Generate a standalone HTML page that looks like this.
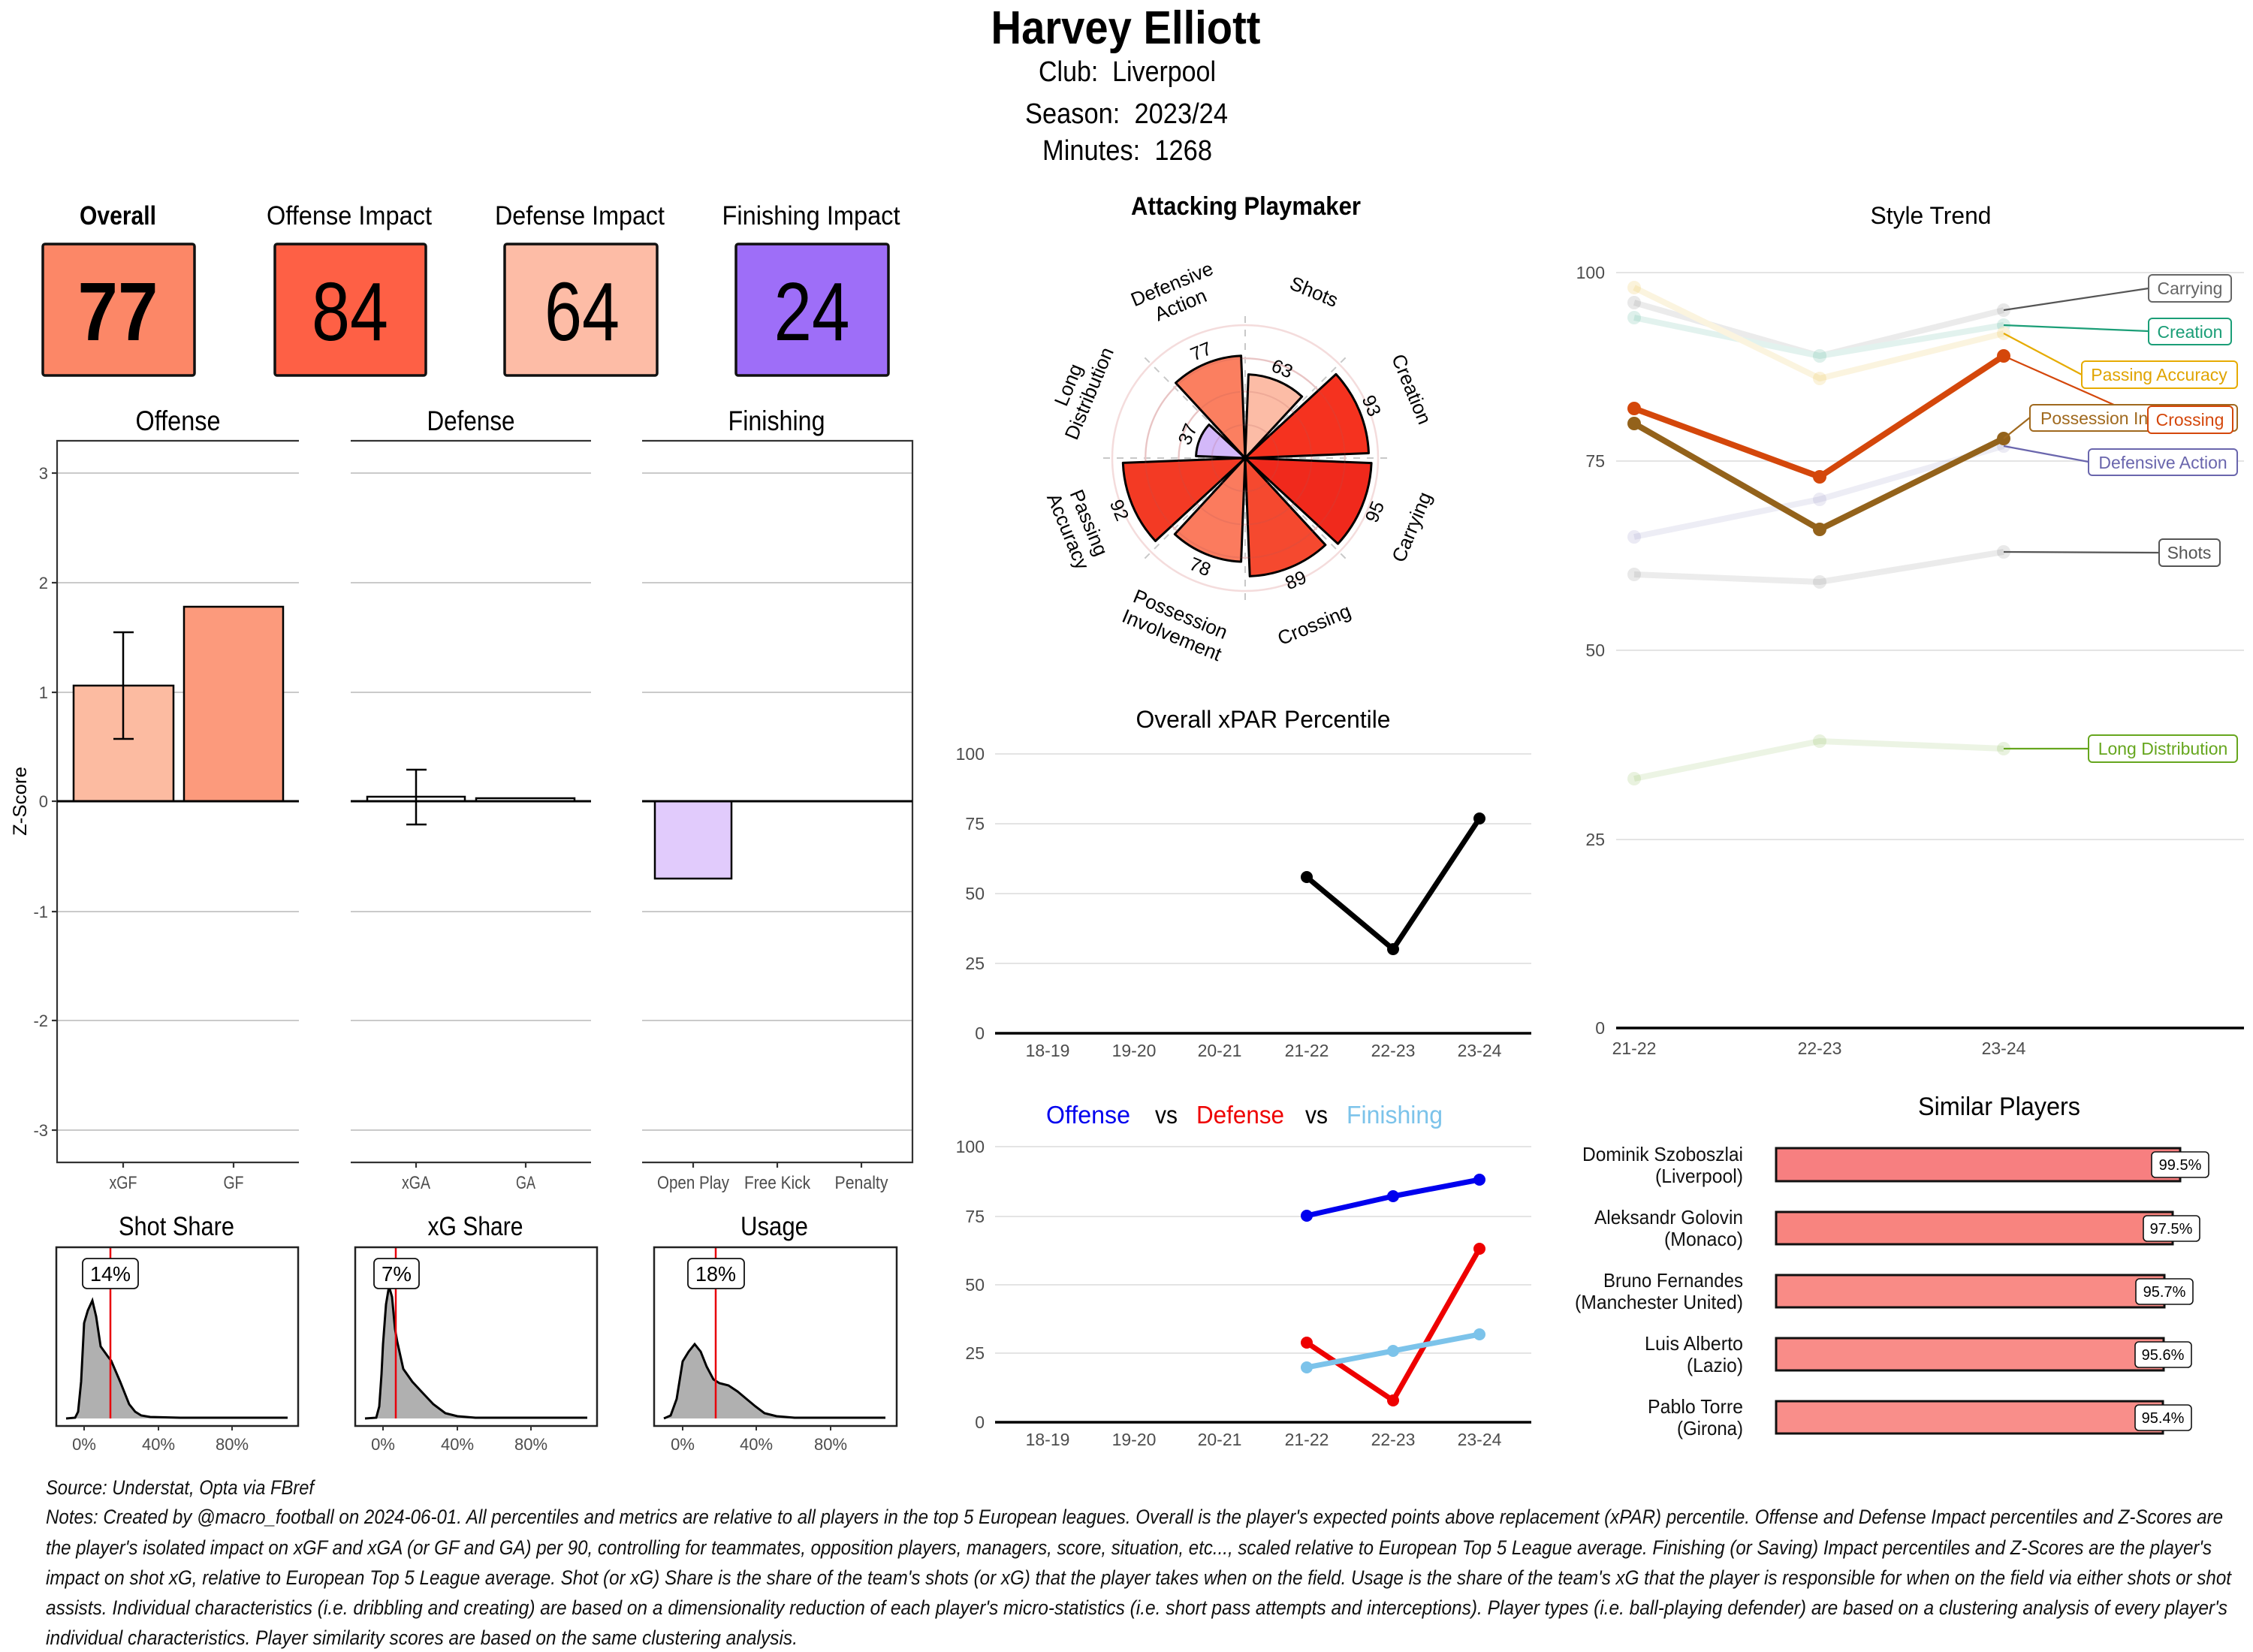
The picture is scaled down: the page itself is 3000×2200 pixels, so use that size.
<!DOCTYPE html>
<html><head><meta charset="utf-8"><style>
body{margin:0;background:#fff}
svg{display:block}
.r{font-family:"Liberation Sans",sans-serif}
.n{font-family:"Liberation Sans Narrow","Liberation Sans",sans-serif}
.g{fill:#4d4d4d}
</style></head><body>
<svg width="3000" height="2200" viewBox="0 0 3000 2200" xmlns="http://www.w3.org/2000/svg">
<rect width="3000" height="2200" fill="#fff"/>

<!-- Header -->
<text class="r" x="1499" y="58" font-size="62" font-weight="bold" text-anchor="middle" textLength="359" lengthAdjust="spacingAndGlyphs">Harvey Elliott</text>
<text class="r" x="1501" y="108" font-size="38" text-anchor="middle" textLength="236" lengthAdjust="spacingAndGlyphs" xml:space="preserve">Club:  Liverpool</text>
<text class="r" x="1500" y="164" font-size="38" text-anchor="middle" textLength="270" lengthAdjust="spacingAndGlyphs" xml:space="preserve">Season:  2023/24</text>
<text class="r" x="1501" y="213" font-size="38" text-anchor="middle" textLength="226" lengthAdjust="spacingAndGlyphs" xml:space="preserve">Minutes:  1268</text>

<!-- Top boxes -->
<text class="n" x="157" y="299" font-size="35" font-weight="bold" text-anchor="middle" textLength="102" lengthAdjust="spacingAndGlyphs">Overall</text>
<text class="n" x="465" y="299" font-size="35" text-anchor="middle" textLength="220" lengthAdjust="spacingAndGlyphs">Offense Impact</text>
<text class="n" x="772" y="299" font-size="35" text-anchor="middle" textLength="226" lengthAdjust="spacingAndGlyphs">Defense Impact</text>
<text class="n" x="1080" y="299" font-size="35" text-anchor="middle" textLength="237" lengthAdjust="spacingAndGlyphs">Finishing Impact</text>
<rect x="57" y="325" width="202" height="175" rx="3" fill="#fc8767" stroke="#111" stroke-width="3.5"/>
<rect x="366" y="325" width="201" height="175" rx="3" fill="#fe6045" stroke="#111" stroke-width="3.5"/>
<rect x="672" y="325" width="203" height="175" rx="3" fill="#fdbca6" stroke="#111" stroke-width="3.5"/>
<rect x="980" y="325" width="203" height="175" rx="3" fill="#9e6ef8" stroke="#111" stroke-width="3.5"/>
<text class="n" x="157" y="453" font-size="110" font-weight="bold" text-anchor="middle" textLength="107" lengthAdjust="spacingAndGlyphs">77</text>
<text class="n" x="466" y="453" font-size="110" text-anchor="middle" textLength="102" lengthAdjust="spacingAndGlyphs">84</text>
<text class="n" x="775" y="453" font-size="110" text-anchor="middle" textLength="100" lengthAdjust="spacingAndGlyphs">64</text>
<text class="n" x="1081" y="453" font-size="110" text-anchor="middle" textLength="101" lengthAdjust="spacingAndGlyphs">24</text>

<!-- Z-score panels -->
<text class="n" x="237" y="573" font-size="37" text-anchor="middle" textLength="113" lengthAdjust="spacingAndGlyphs">Offense</text>
<text class="n" x="627" y="573" font-size="37" text-anchor="middle" textLength="117" lengthAdjust="spacingAndGlyphs">Defense</text>
<text class="n" x="1034" y="573" font-size="37" text-anchor="middle" textLength="129" lengthAdjust="spacingAndGlyphs">Finishing</text>
<g stroke="#b8b8b8" stroke-width="1.6">
<line x1="76" y1="630" x2="398" y2="630"/><line x1="467" y1="630" x2="787" y2="630"/><line x1="855" y1="630" x2="1215" y2="630"/>
<line x1="76" y1="776" x2="398" y2="776"/><line x1="467" y1="776" x2="787" y2="776"/><line x1="855" y1="776" x2="1215" y2="776"/>
<line x1="76" y1="922" x2="398" y2="922"/><line x1="467" y1="922" x2="787" y2="922"/><line x1="855" y1="922" x2="1215" y2="922"/>
<line x1="76" y1="1214" x2="398" y2="1214"/><line x1="467" y1="1214" x2="787" y2="1214"/><line x1="855" y1="1214" x2="1215" y2="1214"/>
<line x1="76" y1="1359" x2="398" y2="1359"/><line x1="467" y1="1359" x2="787" y2="1359"/><line x1="855" y1="1359" x2="1215" y2="1359"/>
<line x1="76" y1="1505" x2="398" y2="1505"/><line x1="467" y1="1505" x2="787" y2="1505"/><line x1="855" y1="1505" x2="1215" y2="1505"/>
</g>
<g stroke="#333" stroke-width="2.2" fill="none">
<polyline points="398,587 76,587 76,1548 398,1548"/>
<line x1="467" y1="587" x2="787" y2="587"/><line x1="467" y1="1548" x2="787" y2="1548"/>
<polyline points="855,587 1215,587 1215,1548 855,1548"/>
<line x1="69" y1="630" x2="76" y2="630"/><line x1="69" y1="776" x2="76" y2="776"/><line x1="69" y1="922" x2="76" y2="922"/><line x1="69" y1="1067" x2="76" y2="1067"/><line x1="69" y1="1214" x2="76" y2="1214"/><line x1="69" y1="1359" x2="76" y2="1359"/><line x1="69" y1="1505" x2="76" y2="1505"/>
<line x1="164" y1="1548" x2="164" y2="1555"/><line x1="311" y1="1548" x2="311" y2="1555"/><line x1="554" y1="1548" x2="554" y2="1555"/><line x1="700" y1="1548" x2="700" y2="1555"/><line x1="923" y1="1548" x2="923" y2="1555"/><line x1="1035" y1="1548" x2="1035" y2="1555"/><line x1="1147" y1="1548" x2="1147" y2="1555"/>
</g>
<g class="n g" font-size="22" text-anchor="end">
<text x="64" y="638">3</text><text x="64" y="784">2</text><text x="64" y="930">1</text><text x="64" y="1075">0</text><text x="64" y="1222">-1</text><text x="64" y="1367">-2</text><text x="64" y="1513">-3</text>
</g>
<text class="r" transform="translate(35,1067) rotate(-90)" font-size="25" text-anchor="middle" textLength="92" lengthAdjust="spacingAndGlyphs">Z-Score</text>
<!-- bars -->
<rect x="98" y="913" width="133" height="154" fill="#fcbba1" stroke="#000" stroke-width="2.5"/>
<rect x="245" y="808" width="132" height="259" fill="#fc9a7c" stroke="#000" stroke-width="2.5"/>
<g stroke="#000" stroke-width="2.5"><line x1="164" y1="842" x2="164" y2="984"/><line x1="151" y1="842" x2="178" y2="842"/><line x1="151" y1="984" x2="178" y2="984"/></g>
<rect x="489" y="1061" width="130" height="6" fill="#fff" stroke="#000" stroke-width="2.5"/>
<rect x="634" y="1063" width="131" height="4" fill="#fff" stroke="#000" stroke-width="2.5"/>
<g stroke="#000" stroke-width="2.5"><line x1="554" y1="1025" x2="554" y2="1098"/><line x1="541" y1="1025" x2="568" y2="1025"/><line x1="541" y1="1098" x2="568" y2="1098"/></g>
<rect x="872" y="1067" width="102" height="103" fill="#e1cbfc" stroke="#000" stroke-width="2.5"/>
<g stroke="#000" stroke-width="3"><line x1="76" y1="1067" x2="398" y2="1067"/><line x1="467" y1="1067" x2="787" y2="1067"/><line x1="855" y1="1067" x2="1215" y2="1067"/></g>
<g class="n g" font-size="24" text-anchor="middle">
<text x="164" y="1583" textLength="37" lengthAdjust="spacingAndGlyphs">xGF</text>
<text x="311" y="1583" textLength="27" lengthAdjust="spacingAndGlyphs">GF</text>
<text x="554" y="1583" textLength="38" lengthAdjust="spacingAndGlyphs">xGA</text>
<text x="700" y="1583" textLength="26" lengthAdjust="spacingAndGlyphs">GA</text>
<text x="923" y="1583" textLength="96" lengthAdjust="spacingAndGlyphs">Open Play</text>
<text x="1035" y="1583" textLength="88" lengthAdjust="spacingAndGlyphs">Free Kick</text>
<text x="1147" y="1583" textLength="71" lengthAdjust="spacingAndGlyphs">Penalty</text>
</g>

<!-- Density panels -->
<text class="n" x="235" y="1645" font-size="35" text-anchor="middle" textLength="154" lengthAdjust="spacingAndGlyphs">Shot Share</text>
<text class="n" x="633" y="1645" font-size="35" text-anchor="middle" textLength="127" lengthAdjust="spacingAndGlyphs">xG Share</text>
<text class="n" x="1031" y="1645" font-size="35" text-anchor="middle" textLength="90" lengthAdjust="spacingAndGlyphs">Usage</text>
<path d="M88,1889 L100,1888 L104,1880 L108,1840 L112,1762 L117,1745 L123,1732 L128,1753 L134,1793 L144,1807 L148,1812 L160,1840 L172,1870 L180,1880 L188,1885 L200,1887 L240,1888 L383,1888 L383,1889 Z" fill="#b0b0b0" stroke="none"/>
<path d="M88,1889 L100,1888 L104,1880 L108,1840 L112,1762 L117,1745 L123,1732 L128,1753 L134,1793 L144,1807 L148,1812 L160,1840 L172,1870 L180,1880 L188,1885 L200,1887 L240,1888 L383,1888" fill="none" stroke="#000" stroke-width="3"/>
<path d="M486,1889 L501,1888 L505,1873 L508,1830 L510,1790 L514,1737 L518,1713 L522,1727 L526,1770 L529,1787 L537,1823 L549,1840 L561,1853 L577,1870 L593,1882 L609,1886 L633,1888 L782,1888 L782,1889 Z" fill="#b0b0b0"/>
<path d="M486,1889 L501,1888 L505,1873 L508,1830 L510,1790 L514,1737 L518,1713 L522,1727 L526,1770 L529,1787 L537,1823 L549,1840 L561,1853 L577,1870 L593,1882 L609,1886 L633,1888 L782,1888" fill="none" stroke="#000" stroke-width="3"/>
<path d="M884,1889 L893,1885 L901,1863 L909,1813 L917,1800 L925,1790 L933,1800 L941,1820 L950,1837 L958,1842 L970,1845 L982,1853 L994,1863 L1006,1873 L1018,1882 L1034,1886 L1058,1888 L1179,1888 L1179,1889 Z" fill="#b0b0b0"/>
<path d="M884,1889 L893,1885 L901,1863 L909,1813 L917,1800 L925,1790 L933,1800 L941,1820 L950,1837 L958,1842 L970,1845 L982,1853 L994,1863 L1006,1873 L1018,1882 L1034,1886 L1058,1888 L1179,1888" fill="none" stroke="#000" stroke-width="3"/>
<g stroke="#e8000b" stroke-width="2.5">
<line x1="147" y1="1662" x2="147" y2="1889"/><line x1="527" y1="1662" x2="527" y2="1889"/><line x1="953" y1="1662" x2="953" y2="1889"/>
</g>
<g fill="none" stroke="#222" stroke-width="2.5">
<rect x="75" y="1661" width="322" height="238"/><rect x="473" y="1661" width="322" height="238"/><rect x="871" y="1661" width="323" height="238"/>
</g>
<g stroke="#333" stroke-width="2">
<line x1="112" y1="1899" x2="112" y2="1905"/><line x1="211" y1="1899" x2="211" y2="1905"/><line x1="309" y1="1899" x2="309" y2="1905"/>
<line x1="510" y1="1899" x2="510" y2="1905"/><line x1="609" y1="1899" x2="609" y2="1905"/><line x1="707" y1="1899" x2="707" y2="1905"/>
<line x1="909" y1="1899" x2="909" y2="1905"/><line x1="1007" y1="1899" x2="1007" y2="1905"/><line x1="1106" y1="1899" x2="1106" y2="1905"/>
</g>
<g class="n g" font-size="22" text-anchor="middle">
<text x="112" y="1931">0%</text><text x="211" y="1931">40%</text><text x="309" y="1931">80%</text>
<text x="510" y="1931">0%</text><text x="609" y="1931">40%</text><text x="707" y="1931">80%</text>
<text x="909" y="1931">0%</text><text x="1007" y="1931">40%</text><text x="1106" y="1931">80%</text>
</g>
<g fill="#fff" stroke="#111" stroke-width="1.8">
<rect x="110" y="1676" width="74" height="40" rx="6"/><rect x="498" y="1676" width="60" height="40" rx="6"/><rect x="916" y="1676" width="75" height="40" rx="6"/>
</g>
<g class="n" font-size="28" text-anchor="middle">
<text x="147" y="1706" textLength="54" lengthAdjust="spacingAndGlyphs">14%</text>
<text x="528" y="1706" textLength="40" lengthAdjust="spacingAndGlyphs">7%</text>
<text x="953" y="1706" textLength="54" lengthAdjust="spacingAndGlyphs">18%</text>
</g>

<!-- Radar -->
<text class="r" x="1659" y="286" font-size="34" font-weight="bold" text-anchor="middle" textLength="306" lengthAdjust="spacingAndGlyphs">Attacking Playmaker</text>
<g stroke="#c8c8c8" stroke-width="2" stroke-dasharray="9,9">
<line x1="1658" y1="610" x2="1658" y2="413"/>
<line x1="1658" y1="610" x2="1797" y2="471"/>
<line x1="1658" y1="610" x2="1855" y2="610"/>
<line x1="1658" y1="610" x2="1797" y2="749"/>
<line x1="1658" y1="610" x2="1658" y2="807"/>
<line x1="1658" y1="610" x2="1519" y2="749"/>
<line x1="1658" y1="610" x2="1461" y2="610"/>
<line x1="1658" y1="610" x2="1519" y2="471"/>
</g>
<circle cx="1658" cy="610" r="177" fill="none" stroke="#f4dcdc" stroke-width="2.5"/>
<circle cx="1658" cy="610" r="132.75" fill="none" stroke="#f4dcdc" stroke-width="2.5"/>
<circle cx="1658" cy="610" r="88.5" fill="none" stroke="#f4dcdc" stroke-width="2.5"/>
<g stroke="#000" stroke-width="3" stroke-linejoin="round">
<path d="M1658,610 L1662.4,498.6 A111.5,111.5 0 0 1 1733.7,528.1 Z" fill="#fcbca6"/>
<path d="M1658,610 L1778.9,498.3 A164.6,164.6 0 0 1 1822.5,603.5 Z" fill="#f5321f"/>
<path d="M1658,610 L1826.1,616.6 A168.2,168.2 0 0 1 1781.5,724.2 Z" fill="#f0291c"/>
<path d="M1658,610 L1764.9,725.7 A157.5,157.5 0 0 1 1664.2,767.4 Z" fill="#f5492f"/>
<path d="M1658,610 L1652.6,748.0 A138.1,138.1 0 0 1 1564.3,711.4 Z" fill="#fb7b5e"/>
<path d="M1658,610 L1538.5,720.5 A162.8,162.8 0 0 1 1495.3,616.4 Z" fill="#f33a24"/>
<path d="M1658,610 L1592.6,607.4 A65.5,65.5 0 0 1 1609.9,565.5 Z" fill="#d3b8f9"/>
<path d="M1658,610 L1565.5,509.9 A136.3,136.3 0 0 1 1652.6,473.8 Z" fill="#fb7f60"/>
</g>
<g fill="none" stroke="rgba(180,90,90,0.18)" stroke-width="2">
<circle cx="1658" cy="610" r="132.75"/><circle cx="1658" cy="610" r="88.5"/><circle cx="1658" cy="610" r="44.25"/>
</g>
<g class="r" font-size="26" text-anchor="middle">
<g transform="translate(1749.8,388.3) rotate(22.5)"><text y="9">Shots</text></g>
<g transform="translate(1879.7,518.2) rotate(67.5)"><text y="9">Creation</text></g>
<g transform="translate(1879.7,701.8) rotate(-67.5)"><text y="9">Carrying</text></g>
<g transform="translate(1749.8,831.7) rotate(-22.5)"><text y="9">Crossing</text></g>
<g transform="translate(1566.2,831.7) rotate(22.5)"><text y="-6">Possession</text><text y="24">Involvement</text></g>
<g transform="translate(1436.3,701.8) rotate(67.5)"><text y="-6">Passing</text><text y="24">Accuracy</text></g>
<g transform="translate(1436.3,518.2) rotate(-67.5)"><text y="-6">Long</text><text y="24">Distribution</text></g>
<g transform="translate(1566.2,392) rotate(-22.5)"><text y="-6">Defensive</text><text y="24">Action</text></g>
</g>
<g class="r" font-size="25" text-anchor="middle">
<g transform="translate(1707.6,490.4) rotate(22.5)"><text y="9">63</text></g>
<g transform="translate(1826.7,540.1) rotate(67.5)"><text y="9">93</text></g>
<g transform="translate(1830,681.3) rotate(-67.5)"><text y="9">95</text></g>
<g transform="translate(1725.2,772.1) rotate(-22.5)"><text y="9">89</text></g>
<g transform="translate(1598.3,754.2) rotate(22.5)"><text y="9">78</text></g>
<g transform="translate(1491,679.2) rotate(67.5)"><text y="9">92</text></g>
<g transform="translate(1580.9,578) rotate(-67.5)"><text y="9">37</text></g>
<g transform="translate(1599,467.4) rotate(-22.5)"><text y="9">77</text></g>
</g>

<!-- Overall xPAR Percentile -->
<text class="r" x="1682" y="969" font-size="32" text-anchor="middle" textLength="339" lengthAdjust="spacingAndGlyphs">Overall xPAR Percentile</text>
<g stroke="#dcdcdc" stroke-width="1.6">
<line x1="1325" y1="1004" x2="2039" y2="1004"/><line x1="1325" y1="1097" x2="2039" y2="1097"/><line x1="1325" y1="1190" x2="2039" y2="1190"/><line x1="1325" y1="1283" x2="2039" y2="1283"/>
</g>
<line x1="1325" y1="1376" x2="2039" y2="1376" stroke="#000" stroke-width="3.5"/>
<g class="r g" font-size="23" text-anchor="end">
<text x="1311" y="1012">100</text><text x="1311" y="1105">75</text><text x="1311" y="1198">50</text><text x="1311" y="1291">25</text><text x="1311" y="1384">0</text>
</g>
<g class="r g" font-size="23" text-anchor="middle">
<text x="1395" y="1407">18-19</text><text x="1510" y="1407">19-20</text><text x="1624" y="1407">20-21</text><text x="1740" y="1407">21-22</text><text x="1855" y="1407">22-23</text><text x="1970" y="1407">23-24</text>
</g>
<polyline points="1740,1168 1855,1264 1970,1090" fill="none" stroke="#000" stroke-width="7" stroke-linejoin="round"/>
<g fill="#000"><circle cx="1740" cy="1168" r="8"/><circle cx="1855" cy="1264" r="8"/><circle cx="1970" cy="1090" r="8"/></g>

<!-- Offense vs Defense vs Finishing -->
<g class="r" font-size="33">
<text x="1393" y="1496" fill="#0000ee" textLength="112" lengthAdjust="spacingAndGlyphs">Offense</text>
<text x="1538" y="1496" textLength="30" lengthAdjust="spacingAndGlyphs">vs</text>
<text x="1593" y="1496" fill="#ee0000" textLength="117" lengthAdjust="spacingAndGlyphs">Defense</text>
<text x="1738" y="1496" textLength="30" lengthAdjust="spacingAndGlyphs">vs</text>
<text x="1793" y="1496" fill="#7cc3ea" textLength="128" lengthAdjust="spacingAndGlyphs">Finishing</text>
</g>
<g stroke="#dcdcdc" stroke-width="1.6">
<line x1="1325" y1="1527" x2="2039" y2="1527"/><line x1="1325" y1="1620" x2="2039" y2="1620"/><line x1="1325" y1="1711" x2="2039" y2="1711"/><line x1="1325" y1="1802" x2="2039" y2="1802"/>
</g>
<line x1="1325" y1="1894" x2="2039" y2="1894" stroke="#000" stroke-width="3.5"/>
<g class="r g" font-size="23" text-anchor="end">
<text x="1311" y="1535">100</text><text x="1311" y="1628">75</text><text x="1311" y="1719">50</text><text x="1311" y="1810">25</text><text x="1311" y="1902">0</text>
</g>
<g class="r g" font-size="23" text-anchor="middle">
<text x="1395" y="1925">18-19</text><text x="1510" y="1925">19-20</text><text x="1624" y="1925">20-21</text><text x="1740" y="1925">21-22</text><text x="1855" y="1925">22-23</text><text x="1970" y="1925">23-24</text>
</g>
<polyline points="1740,1619 1855,1593 1970,1571" fill="none" stroke="#0000ee" stroke-width="7" stroke-linejoin="round"/>
<g fill="#0000ee"><circle cx="1740" cy="1619" r="8"/><circle cx="1855" cy="1593" r="8"/><circle cx="1970" cy="1571" r="8"/></g>
<polyline points="1740,1788 1855,1865 1970,1663" fill="none" stroke="#ee0000" stroke-width="7" stroke-linejoin="round"/>
<g fill="#ee0000"><circle cx="1740" cy="1788" r="8"/><circle cx="1855" cy="1865" r="8"/><circle cx="1970" cy="1663" r="8"/></g>
<polyline points="1740,1821 1855,1799 1970,1777" fill="none" stroke="#7cc3ea" stroke-width="7" stroke-linejoin="round"/>
<g fill="#7cc3ea"><circle cx="1740" cy="1821" r="8"/><circle cx="1855" cy="1799" r="8"/><circle cx="1970" cy="1777" r="8"/></g>

<!-- Style Trend -->
<text class="r" x="2571" y="298" font-size="32" text-anchor="middle" textLength="161" lengthAdjust="spacingAndGlyphs">Style Trend</text>
<g stroke="#dcdcdc" stroke-width="1.6">
<line x1="2152" y1="363" x2="2988" y2="363"/><line x1="2152" y1="614" x2="2988" y2="614"/><line x1="2152" y1="866" x2="2988" y2="866"/><line x1="2152" y1="1118" x2="2988" y2="1118"/>
</g>
<line x1="2152" y1="1369" x2="2988" y2="1369" stroke="#000" stroke-width="3.5"/>
<g class="r g" font-size="23" text-anchor="end">
<text x="2137" y="371">100</text><text x="2137" y="622">75</text><text x="2137" y="874">50</text><text x="2137" y="1126">25</text><text x="2137" y="1377">0</text>
</g>
<g class="r g" font-size="23" text-anchor="middle">
<text x="2176" y="1404">21-22</text><text x="2423" y="1404">22-23</text><text x="2668" y="1404">23-24</text>
</g>
<!-- faded series -->
<g stroke-width="8" fill="none" stroke-linejoin="round" opacity="0.12">
<polyline points="2176,403 2423,474 2668,413" stroke="#666"/>
<polyline points="2176,423 2423,474 2668,433" stroke="#1b9e77"/>
<polyline points="2176,383 2423,504 2668,444" stroke="#e6ab02"/>
<polyline points="2176,715 2423,665 2668,594" stroke="#7570b3"/>
<polyline points="2176,765 2423,775 2668,735" stroke="#666"/>
<polyline points="2176,1037 2423,987 2668,997" stroke="#66a61e"/>
</g>
<g opacity="0.14">
<g fill="#666"><circle cx="2176" cy="403" r="9"/><circle cx="2423" cy="474" r="9"/><circle cx="2668" cy="413" r="9"/></g>
<g fill="#1b9e77"><circle cx="2176" cy="423" r="9"/><circle cx="2423" cy="474" r="9"/><circle cx="2668" cy="433" r="9"/></g>
<g fill="#e6ab02"><circle cx="2176" cy="383" r="9"/><circle cx="2423" cy="504" r="9"/><circle cx="2668" cy="444" r="9"/></g>
<g fill="#7570b3"><circle cx="2176" cy="715" r="9"/><circle cx="2423" cy="665" r="9"/><circle cx="2668" cy="594" r="9"/></g>
<g fill="#666"><circle cx="2176" cy="765" r="9"/><circle cx="2423" cy="775" r="9"/><circle cx="2668" cy="735" r="9"/></g>
<g fill="#66a61e"><circle cx="2176" cy="1037" r="9"/><circle cx="2423" cy="987" r="9"/><circle cx="2668" cy="997" r="9"/></g>
</g>
<!-- highlighted series -->
<polyline points="2176,544 2423,635 2668,474" fill="none" stroke="#d4470b" stroke-width="8" stroke-linejoin="round"/>
<g fill="#d4470b"><circle cx="2176" cy="544" r="9"/><circle cx="2423" cy="635" r="9"/><circle cx="2668" cy="474" r="9"/></g>
<polyline points="2176,564 2423,705 2668,584" fill="none" stroke="#93621b" stroke-width="8" stroke-linejoin="round"/>
<g fill="#93621b"><circle cx="2176" cy="564" r="9"/><circle cx="2423" cy="705" r="9"/><circle cx="2668" cy="584" r="9"/></g>
<!-- connectors -->
<g stroke-width="2.2">
<line x1="2668" y1="413" x2="2861" y2="384" stroke="#555"/>
<line x1="2668" y1="433" x2="2861" y2="441" stroke="#1b9e77"/>
<line x1="2668" y1="444" x2="2772" y2="499" stroke="#e6ab02"/>
<line x1="2668" y1="474" x2="2860" y2="559" stroke="#d4470b"/>
<line x1="2668" y1="584" x2="2703" y2="556" stroke="#a0691e"/>
<line x1="2668" y1="594" x2="2781" y2="615" stroke="#6a66ad"/>
<line x1="2668" y1="735" x2="2875" y2="736" stroke="#555"/>
<line x1="2668" y1="997" x2="2781" y2="997" stroke="#66a61e"/>
</g>
<g fill="#fff" stroke-width="2">
<rect x="2861" y="366" width="110" height="36" rx="5" stroke="#666"/>
<rect x="2861" y="424" width="110" height="35" rx="5" stroke="#1b9e77"/>
<rect x="2772" y="481" width="207" height="36" rx="5" stroke="#e6ab02"/>
<rect x="2703" y="539" width="276" height="35" rx="5" stroke="#a0691e"/>
</g>
<g class="r" font-size="23" text-anchor="middle">
<text x="2916" y="392" fill="#666">Carrying</text>
<text x="2916" y="450" fill="#1b9e77">Creation</text>
<text x="2875" y="507" fill="#e0a400">Passing Accuracy</text>
<text x="2841" y="565" fill="#a0691e">Possession Involvement</text>
</g>
<rect x="2860" y="541" width="113" height="36" rx="5" fill="#fff" stroke="#d4470b" stroke-width="2"/>
<text class="r" x="2916" y="567" font-size="23" text-anchor="middle" fill="#d4470b">Crossing</text>
<g fill="#fff" stroke-width="2">
<rect x="2781" y="598" width="198" height="35" rx="5" stroke="#6a66ad"/>
<rect x="2875" y="718" width="81" height="36" rx="5" stroke="#555"/>
<rect x="2781" y="979" width="198" height="36" rx="5" stroke="#66a61e"/>
</g>
<g class="r" font-size="23" text-anchor="middle">
<text x="2880" y="624" fill="#6a66ad">Defensive Action</text>
<text x="2915" y="744" fill="#555">Shots</text>
<text x="2880" y="1005" fill="#66a61e">Long Distribution</text>
</g>

<!-- Similar Players -->
<text class="n" x="2662" y="1485" font-size="34" text-anchor="middle" textLength="216" lengthAdjust="spacingAndGlyphs">Similar Players</text>
<g stroke="#111" stroke-width="3">
<rect x="2365" y="1529" width="538" height="44" fill="#f77f80"/>
<rect x="2365" y="1614" width="528" height="43" fill="#f8847f"/>
<rect x="2365" y="1698" width="517" height="43" fill="#f98b86"/>
<rect x="2365" y="1782" width="516" height="43" fill="#f98c88"/>
<rect x="2365" y="1866" width="515" height="43" fill="#f98e8a"/>
</g>
<g fill="#fff" stroke="#111" stroke-width="1.6">
<rect x="2865" y="1534" width="76" height="34" rx="5"/>
<rect x="2854" y="1619" width="75" height="34" rx="5"/>
<rect x="2844" y="1703" width="76" height="34" rx="5"/>
<rect x="2843" y="1787" width="75" height="34" rx="5"/>
<rect x="2843" y="1871" width="75" height="34" rx="5"/>
</g>
<g class="n" font-size="20" text-anchor="middle">
<text x="2903" y="1558">99.5%</text><text x="2891" y="1643">97.5%</text><text x="2882" y="1727">95.7%</text><text x="2880" y="1811">95.6%</text><text x="2880" y="1895">95.4%</text>
</g>
<g class="n" font-size="26" text-anchor="end" fill="#111">
<text x="2321" y="1546" textLength="214" lengthAdjust="spacingAndGlyphs">Dominik Szoboszlai</text>
<text x="2321" y="1575" textLength="117" lengthAdjust="spacingAndGlyphs">(Liverpool)</text>
<text x="2321" y="1630" textLength="198" lengthAdjust="spacingAndGlyphs">Aleksandr Golovin</text>
<text x="2321" y="1659" textLength="105" lengthAdjust="spacingAndGlyphs">(Monaco)</text>
<text x="2321" y="1714" textLength="186" lengthAdjust="spacingAndGlyphs">Bruno Fernandes</text>
<text x="2321" y="1743" textLength="224" lengthAdjust="spacingAndGlyphs">(Manchester United)</text>
<text x="2321" y="1798" textLength="131" lengthAdjust="spacingAndGlyphs">Luis Alberto</text>
<text x="2321" y="1827" textLength="75" lengthAdjust="spacingAndGlyphs">(Lazio)</text>
<text x="2321" y="1882" textLength="127" lengthAdjust="spacingAndGlyphs">Pablo Torre</text>
<text x="2321" y="1911" textLength="88" lengthAdjust="spacingAndGlyphs">(Girona)</text>
</g>

<!-- Notes -->
<g class="n" font-size="27" font-style="italic" fill="#111">
<text x="61" y="1990" textLength="357" lengthAdjust="spacingAndGlyphs">Source: Understat, Opta via FBref</text>
<text x="61" y="2029" textLength="2899" lengthAdjust="spacingAndGlyphs">Notes: Created by @macro_football on 2024-06-01. All percentiles and metrics are relative to all players in the top 5 European leagues. Overall is the player's expected points above replacement (xPAR) percentile. Offense and Defense Impact percentiles and Z-Scores are</text>
<text x="61" y="2070" textLength="2884" lengthAdjust="spacingAndGlyphs">the player's isolated impact on xGF and xGA (or GF and GA) per 90, controlling for teammates, opposition players, managers, score, situation, etc..., scaled relative to European Top 5 League average. Finishing (or Saving) Impact percentiles and Z-Scores are the player's</text>
<text x="61" y="2110" textLength="2910" lengthAdjust="spacingAndGlyphs">impact on shot xG, relative to European Top 5 League average. Shot (or xG) Share is the share of the team's shots (or xG) that the player takes when on the field. Usage is the share of the team's xG that the player is responsible for when on the field via either shots or shot</text>
<text x="61" y="2150" textLength="2905" lengthAdjust="spacingAndGlyphs">assists. Individual characteristics (i.e. dribbling and creating) are based on a dimensionality reduction of each player's micro-statistics (i.e. short pass attempts and interceptions). Player types (i.e. ball-playing defender) are based on a clustering analysis of every player's</text>
<text x="61" y="2190" textLength="1001" lengthAdjust="spacingAndGlyphs">individual characteristics. Player similarity scores are based on the same clustering analysis.</text>
</g>
</svg>
</body></html>
